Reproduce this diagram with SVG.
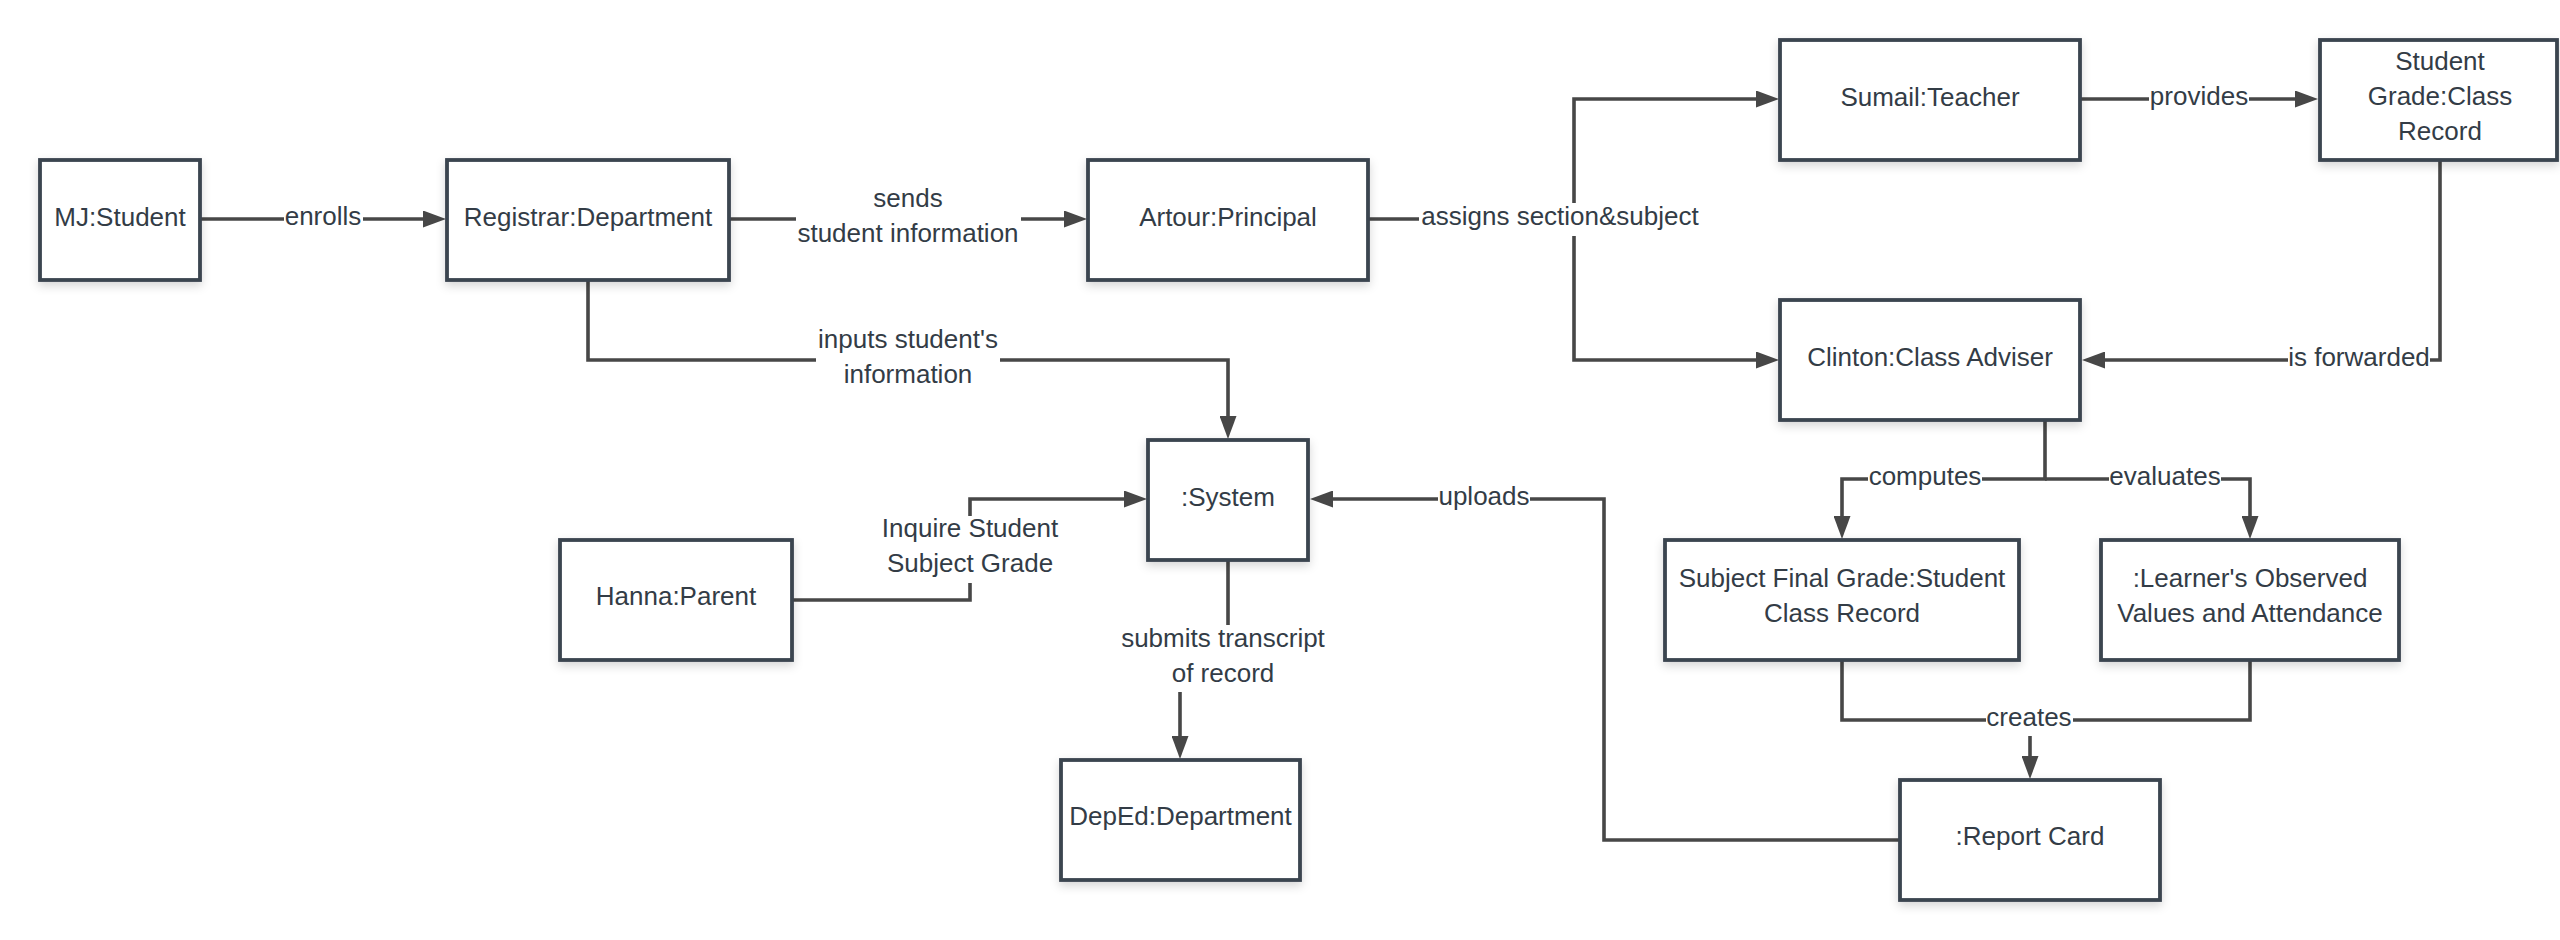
<svg xmlns="http://www.w3.org/2000/svg" width="2560" height="940" viewBox="0 0 2560 940">
<style>
.box{fill:#ffffff;stroke:#3a4450;stroke-width:3.8;filter:url(#sh);}
.t{font-family:"Liberation Sans",Arial,sans-serif;font-size:26px;fill:#333c46;text-anchor:middle;}
.c{fill:none;stroke:#474747;stroke-width:3.6;}
.a{fill:none;stroke:#474747;stroke-width:3.6;marker-end:url(#arr);}
.bg{fill:#ffffff;}
</style>
<defs>
<filter id="sh" x="-20%" y="-20%" width="140%" height="150%">
<feDropShadow dx="0" dy="4" stdDeviation="5" flood-color="#000000" flood-opacity="0.16"/>
</filter>
<marker id="arr" markerUnits="userSpaceOnUse" markerWidth="23" markerHeight="17" viewBox="0 0 23 17" refX="5" refY="8.5" orient="auto">
<path d="M0,0 L23,8.5 L0,17 z" fill="#474747"/>
</marker>
</defs>
<rect width="2560" height="940" fill="#ffffff"/>

<g id="connectors">
<path class="a" d="M201,219 H428"/>
<path class="a" d="M729,219 H1069"/>
<path class="a" d="M1369,219 H1574 V99 H1761"/>
<path class="a" d="M1574,219 V360 H1761"/>
<path class="a" d="M2080,99 H2300"/>
<path class="a" d="M2440,160 V360 H2100"/>
<path class="a" d="M588,281 V360 H1228 V421"/>
<path class="a" d="M793,600 H970 V499 H1129"/>
<path class="a" d="M1899,840 H1604 V499 H1328"/>
<path class="a" d="M1228,560 V658 H1180 V741"/>
<path class="a" d="M2045,420 V479 H1842 V521"/>
<path class="a" d="M2045,479 H2250 V521"/>
<path class="c" d="M1842,660 V720 H2250 V660"/>
<path class="a" d="M2030,720 V761"/>

<rect class="bg" x="284" y="203" width="79" height="32"/>
<text class="t" x="323" y="225">enrolls</text>

<rect class="bg" x="796" y="186" width="225" height="68"/>
<text class="t" x="908" y="207">sends</text>
<text class="t" x="908" y="242">student information</text>

<rect class="bg" x="1419" y="203" width="284" height="33"/>
<text class="t" x="1560" y="225">assigns section&amp;subject</text>

<rect class="bg" x="816" y="326" width="184" height="68"/>
<text class="t" x="908" y="348">inputs student's</text>
<text class="t" x="908" y="383">information</text>

<rect class="bg" x="880" y="516" width="180" height="67"/>
<text class="t" x="970" y="537">Inquire Student</text>
<text class="t" x="970" y="572">Subject Grade</text>

<rect class="bg" x="1120" y="625" width="207" height="67"/>
<text class="t" x="1223" y="647">submits transcript</text>
<text class="t" x="1223" y="682">of record</text>

<rect class="bg" x="1438" y="483" width="92" height="32"/>
<text class="t" x="1484" y="505">uploads</text>

<rect class="bg" x="2149" y="83" width="100" height="32"/>
<text class="t" x="2199" y="105">provides</text>

<rect class="bg" x="2288" y="344" width="142" height="32"/>
<text class="t" x="2359" y="366">is forwarded</text>

<rect class="bg" x="1868" y="463" width="114" height="32"/>
<text class="t" x="1925" y="485">computes</text>

<rect class="bg" x="2109" y="463" width="112" height="32"/>
<text class="t" x="2165" y="485">evaluates</text>

<rect class="bg" x="1986" y="704" width="87" height="32"/>
<text class="t" x="2029" y="726">creates</text>
</g>

<g id="node-mj-student">
<rect class="box" x="40" y="160" width="160" height="120"/>
<text class="t" x="120" y="226">MJ:Student</text>
</g>
<g id="node-registrar">
<rect class="box" x="447" y="160" width="282" height="120"/>
<text class="t" x="588" y="226">Registrar:Department</text>
</g>
<g id="node-artour">
<rect class="box" x="1088" y="160" width="280" height="120"/>
<text class="t" x="1228" y="226">Artour:Principal</text>
</g>
<g id="node-sumail">
<rect class="box" x="1780" y="40" width="300" height="120"/>
<text class="t" x="1930" y="106">Sumail:Teacher</text>
</g>
<g id="node-student-grade">
<rect class="box" x="2320" y="40" width="237" height="120"/>
<text class="t" x="2440" y="70">Student</text>
<text class="t" x="2440" y="105">Grade:Class</text>
<text class="t" x="2440" y="140">Record</text>
</g>
<g id="node-clinton">
<rect class="box" x="1780" y="300" width="300" height="120"/>
<text class="t" x="1930" y="366">Clinton:Class Adviser</text>
</g>
<g id="node-system">
<rect class="box" x="1148" y="440" width="160" height="120"/>
<text class="t" x="1228" y="506">:System</text>
</g>
<g id="node-hanna">
<rect class="box" x="560" y="540" width="232" height="120"/>
<text class="t" x="676" y="605">Hanna:Parent</text>
</g>
<g id="node-deped">
<rect class="box" x="1061" y="760" width="239" height="120"/>
<text class="t" x="1180.5" y="825">DepEd:Department</text>
</g>
<g id="node-subject-final">
<rect class="box" x="1665" y="540" width="354" height="120"/>
<text class="t" x="1842" y="587">Subject Final Grade:Student</text>
<text class="t" x="1842" y="622">Class Record</text>
</g>
<g id="node-learner">
<rect class="box" x="2101" y="540" width="298" height="120"/>
<text class="t" x="2250" y="587">:Learner's Observed</text>
<text class="t" x="2250" y="622">Values and Attendance</text>
</g>
<g id="node-report-card">
<rect class="box" x="1900" y="780" width="260" height="120"/>
<text class="t" x="2030" y="845">:Report Card</text>
</g>
</svg>
